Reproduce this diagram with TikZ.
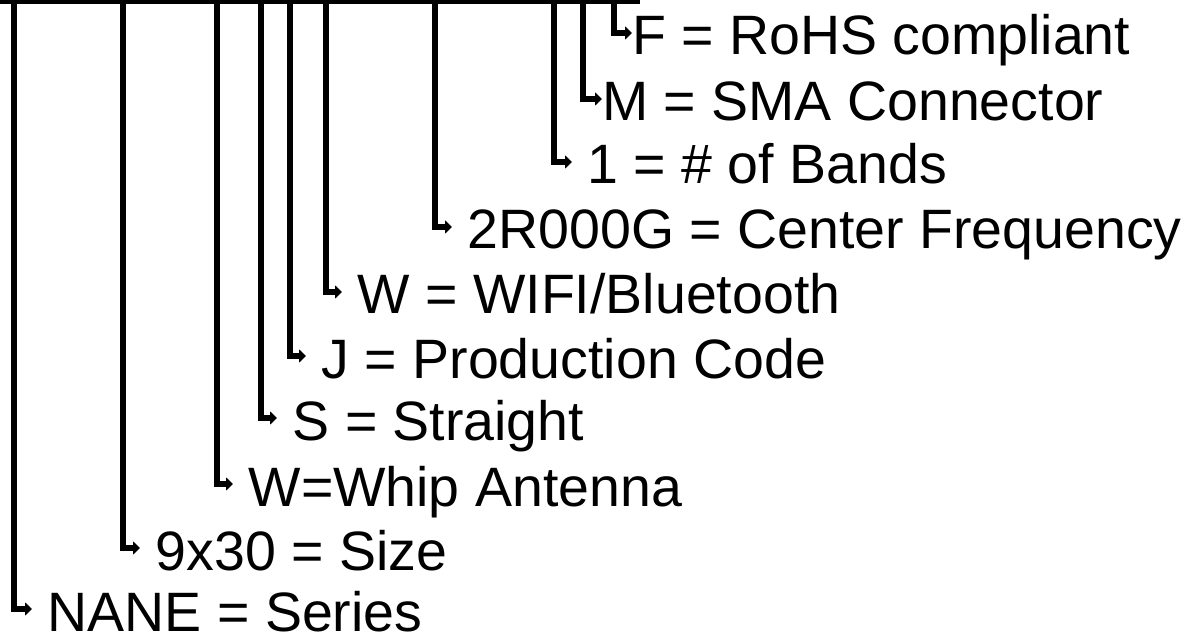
\documentclass[tikz,border=0pt]{standalone}
\usepackage{fontspec}
\setmainfont{Liberation Sans}
\usetikzlibrary{arrows.meta}
\begin{document}
\begin{tikzpicture}[x=1pt,y=-1pt,
  lbl/.style={anchor=west,inner sep=0pt,text height=44pt,text depth=0pt,font=\fontsize{55.5}{60}\selectfont},
  lead/.style={line width=5.5pt,-{Triangle[length=7pt,width=13pt]}},
  bar/.style={line width=5pt}]
\useasboundingbox (0,0) rectangle (1195,639);
\draw[bar] (0,2) -- (640,2);
\coordinate (tF) at (614,0);
\coordinate (tM) at (583,0);
\coordinate (tB) at (554,0);
\coordinate (tC) at (435,0);
\coordinate (tW) at (326,0);
\coordinate (tJ) at (290,0);
\coordinate (tS) at (261,0);
\coordinate (tA) at (217,0);
\coordinate (tZ) at (123,0);
\coordinate (tN) at (14,0);
\node[lbl] (F) at (632,33) {F = RoHS compliant};
\node[lbl] (M) at (602,99) {M = SMA Connector};
\node[lbl] (B) at (572,162) {\ 1 = \# of Bands};
\node[lbl] (C) at (452,227) {\ 2R000G = Center Frequency};
\node[lbl] (W) at (342,292) {\ W = WIFI/Bluetooth};
\node[lbl] (J) at (306,356) {\ J = Production Code};
\node[lbl] (S) at (277,418) {\ S = Straight};
\node[lbl] (A) at (233,484) {\ W=Whip Antenna};
\node[lbl] (Z) at (140,548) {\ 9x30 = Size};
\node[lbl] (N) at (32,609) {\ NANE = Series};
\foreach \t/\n in {tF/F,tM/M,tB/B,tC/C,tW/W,tJ/J,tS/S,tA/A,tZ/Z,tN/N}
  \draw[lead] (\t) |- (\n.west);
\end{tikzpicture}
\end{document}
